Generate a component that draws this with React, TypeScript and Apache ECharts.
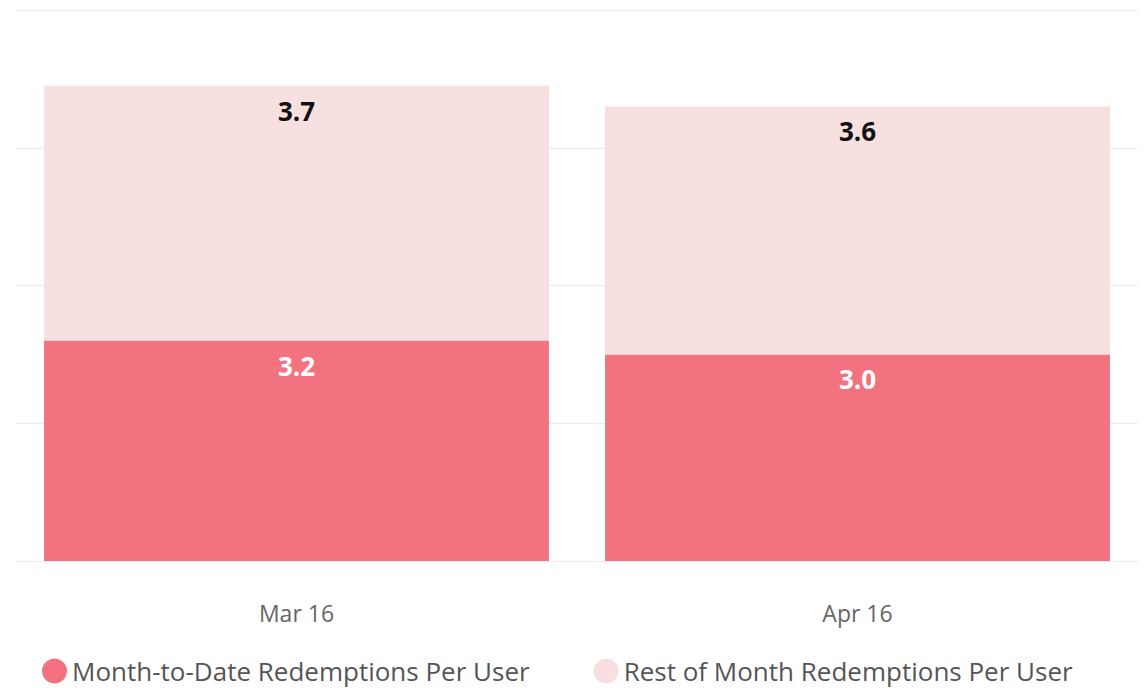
import React, { useEffect, useRef } from "react";
import * as echarts from "echarts";

const categories = ["Mar 16", "Apr 16"];
const monthToDate = [3.2, 3.0];
const restOfMonth = [3.7, 3.6];
const seriesNames = ["Month-to-Date Redemptions Per User", "Rest of Month Redemptions Per User"];

export default function App() {
  const ref = useRef<HTMLDivElement>(null);
  useEffect(() => {
    document.body.style.margin = "0";
    if (!ref.current) return;
    const chart = echarts.init(ref.current, null, { renderer: "svg" });
    const font = "'Open Sans', 'Noto Sans', sans-serif";
    chart.setOption({
      animation: false,
      textStyle: { fontFamily: font },
      grid: { left: 16, right: 7, top: 10, bottom: 127, containLabel: false },
      legend: {
        left: 42,
        top: 657,
        padding: 0,
        icon: "circle",
        itemWidth: 25,
        itemHeight: 25,
        itemGap: 64,
        textStyle: { fontSize: 26, lineHeight: 28, color: "#555", fontFamily: font },
        data: seriesNames,
      },
      xAxis: {
        type: "category",
        data: categories,
        axisLine: { lineStyle: { color: "#ececec" } },
        axisTick: { show: false },
        axisLabel: { fontSize: 23, color: "#666", margin: 40, fontFamily: font },
      },
      yAxis: {
        type: "value",
        min: 0,
        max: 8,
        interval: 2,
        axisLabel: { show: false },
        axisLine: { show: false },
        axisTick: { show: false },
        splitLine: { lineStyle: { color: "#ececec" } },
      },
      series: [
        {
          name: seriesNames[0],
          type: "bar",
          stack: "total",
          data: monthToDate,
          barCategoryGap: "10%",
          itemStyle: { color: "#f2737f" },
          label: {
            show: true,
            position: "insideTop",
            distance: 12,
            color: "#fff",
            fontWeight: "bold",
            fontSize: 26,
            fontFamily: font,
            formatter: (p: any) => Number(p.value).toFixed(1),
          },
        },
        {
          name: seriesNames[1],
          type: "bar",
          stack: "total",
          data: restOfMonth,
          barCategoryGap: "10%",
          itemStyle: { color: "#f8dfe0" },
          label: {
            show: true,
            position: "insideTop",
            distance: 12,
            color: "#111",
            fontWeight: "bold",
            fontSize: 26,
            fontFamily: font,
            formatter: (p: any) => Number(p.value).toFixed(1),
          },
        },
      ],
    });
    return () => chart.dispose();
  }, []);
  return <div ref={ref} style={{ width: 1145, height: 688 }} />;
}
